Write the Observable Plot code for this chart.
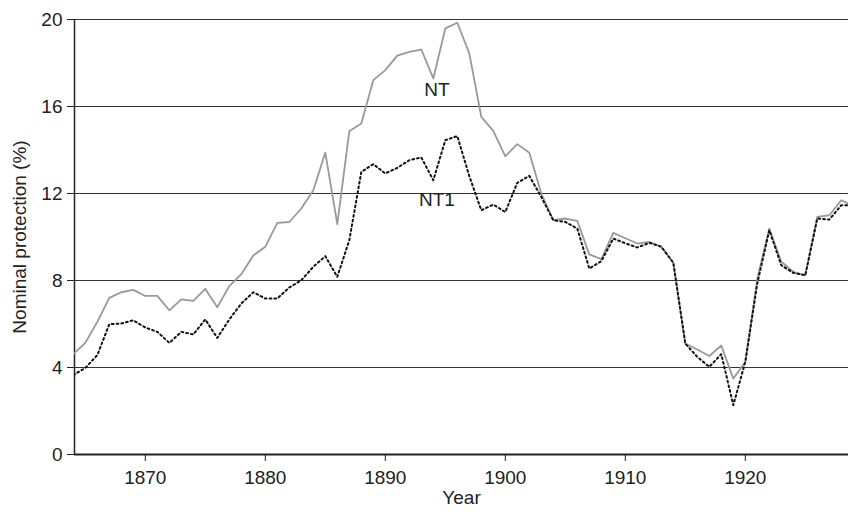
<!DOCTYPE html>
<html>
<head>
<meta charset="utf-8">
<script src="https://cdn.jsdelivr.net/npm/d3@7"></script>
<script src="https://cdn.jsdelivr.net/npm/@observablehq/plot@0.6"></script>
<style>
  html, body { margin: 0; padding: 0; background: #fff; }
  #chart svg { display: block; }
</style>
</head>
<body>
<div id="chart"></div>
<script>
const years = d3.range(1864, 1930);
const ntValues = [
  4.61, 5.13, 6.10, 7.20, 7.46, 7.57, 7.29, 7.29, 6.63, 7.13,
  7.06, 7.61, 6.77, 7.74, 8.29, 9.15, 9.55, 10.65, 10.69, 11.31,
  12.15, 13.88, 10.59, 14.86, 15.22, 17.21, 17.67, 18.34, 18.51, 18.62,
  17.29, 19.59, 19.85, 18.44, 15.52, 14.88, 13.71, 14.27, 13.87, 12.00,
  10.77, 10.85, 10.74, 9.20, 8.98, 10.19, 9.94, 9.70, 9.78, 9.55,
  8.82, 5.10, 4.83, 4.53, 5.01, 3.49, 4.26, 8.09, 10.39, 8.86,
  8.40, 8.24, 10.93, 11.00, 11.69, 11.42
];
const nt1Values = [
  3.65, 3.98, 4.57, 5.99, 6.02, 6.17, 5.84, 5.64, 5.13, 5.64,
  5.52, 6.21, 5.36, 6.21, 6.94, 7.46, 7.17, 7.17, 7.68, 8.01,
  8.63, 9.12, 8.17, 9.85, 12.99, 13.35, 12.92, 13.18, 13.53, 13.66,
  12.61, 14.45, 14.64, 12.80, 11.23, 11.49, 11.15, 12.49, 12.81, 11.84,
  10.77, 10.69, 10.39, 8.55, 8.89, 9.93, 9.71, 9.52, 9.73, 9.55,
  8.82, 5.10, 4.49, 4.03, 4.61, 2.27, 4.26, 7.86, 10.31, 8.70,
  8.35, 8.24, 10.85, 10.80, 11.46, 11.45
];
const xTicks = [1870, 1880, 1890, 1900, 1910, 1920];
const yTicks = [0, 4, 8, 12, 16, 20];
const gridTicks = [4, 8, 12, 16, 20];
const labelNames = ["NT", "NT1"];
const labelYears = [1894.3, 1894.3];
const labelValues = [16.75, 11.7];

const nt = years.map((year, i) => ({year, value: ntValues[i]}));
const nt1 = years.map((year, i) => ({year, value: nt1Values[i]}));
const labels = labelNames.map((name, i) => ({name, year: labelYears[i], value: labelValues[i]}));

const chart = Plot.plot({
  width: 848,
  height: 515,
  marginLeft: 74,
  marginRight: 0,
  marginTop: 19,
  marginBottom: 61,
  x: {domain: [1864.1, 1928.6]},
  y: {domain: [0, 20]},
  style: {fontFamily: "'Liberation Sans', Arial, sans-serif", fontSize: "19px", color: "#222", background: "#fff", overflow: "visible"},
  marks: [
    Plot.ruleY(gridTicks, {stroke: "#333", strokeWidth: 1}),
    Plot.axisY({ticks: yTicks, tickSize: 7, tickPadding: 5, stroke: "#222", strokeOpacity: 1,
      label: "Nominal protection (%)", labelArrow: "none", labelAnchor: "center", labelOffset: 62}),
    Plot.axisX({ticks: xTicks, tickFormat: d => String(d), tickSize: 7, tickPadding: 9, stroke: "#222", strokeOpacity: 1,
      label: "Year", labelArrow: "none", labelAnchor: "center", labelOffset: 49}),
    Plot.ruleY([0], {stroke: "#222", strokeWidth: 2}),
    Plot.ruleX([1864.1], {stroke: "#222", strokeWidth: 1.5}),
    Plot.line(nt, {x: "year", y: "value", stroke: "#999", strokeWidth: 1.8, clip: true}),
    Plot.line(nt1, {x: "year", y: "value", stroke: "#111", strokeWidth: 2, strokeDasharray: "1.8,3", clip: true}),
    Plot.text(labels, {x: "year", y: "value", text: "name", fill: "#222", fontSize: 19})
  ]
});
document.getElementById("chart").appendChild(chart);
</script>
</body>
</html>
